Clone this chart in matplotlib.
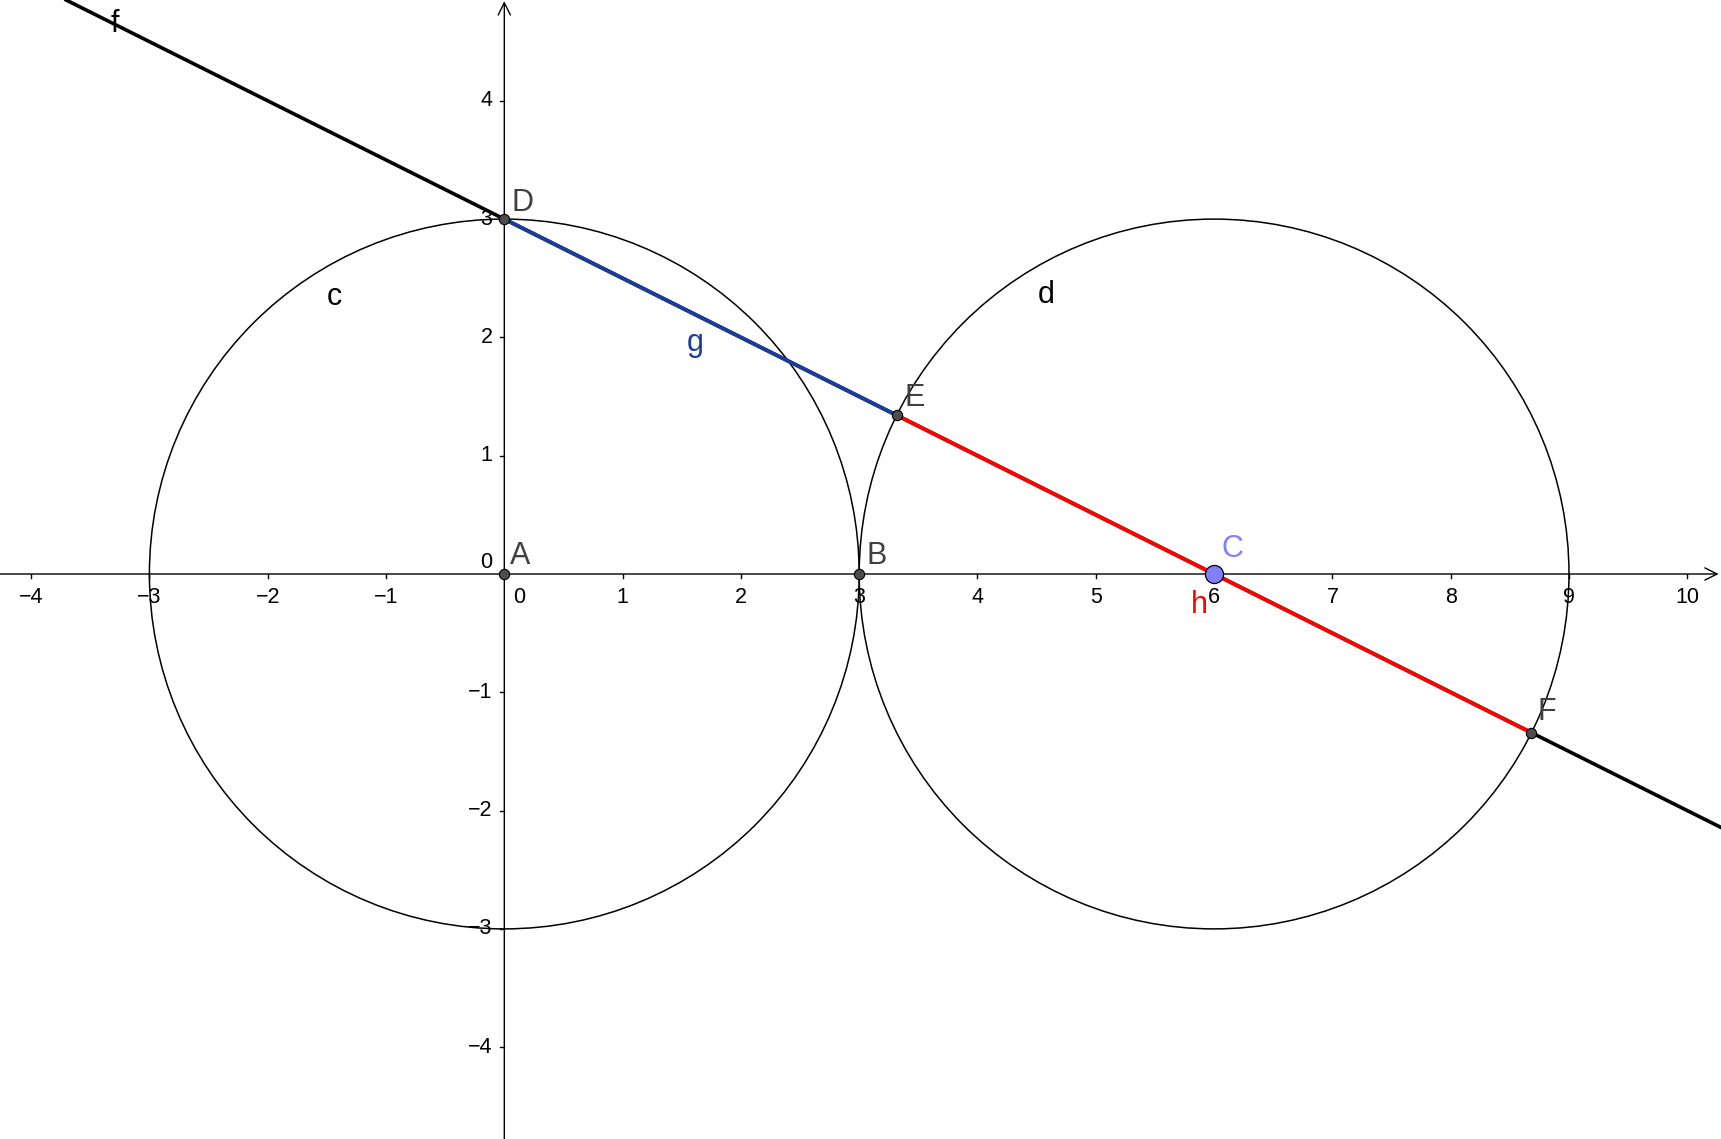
import numpy as np
import matplotlib.pyplot as plt
from matplotlib.patches import Circle

plt.rcParams['font.family'] = ['Liberation Sans', 'DejaVu Sans']

# view window (data units)
x_min, x_max = -4.263, 10.285
y_min, y_max = -4.776, 4.852

x_ticks = [-4, -3, -2, -1, 1, 2, 3, 4, 5, 6, 7, 8, 9, 10]
y_ticks = [-4, -3, -2, -1, 1, 2, 3, 4]

# circles c and d
circle_centers = [(0, 0), (6, 0)]
circle_radius = [3, 3]

# points
pt_names = ['A', 'B', 'D', 'E', 'F']
pt_x = [0, 3, 0, 3.317, 8.683]
pt_y = [0, 0, 3, 1.342, -1.342]
C_pt = (6, 0)

# labels: (text, x, y, colour)
labels = [
    ('A', 0.05, 0.15, '#404040'),
    ('B', 3.06, 0.15, '#404040'),
    ('C', 6.06, 0.21, '#7f7fff'),
    ('D', 0.06, 3.14, '#404040'),
    ('E', 3.38, 1.49, '#404040'),
    ('F', 8.73, -1.17, '#404040'),
    ('c', -1.50, 2.34, 'black'),
    ('d', 4.51, 2.36, 'black'),
    ('f', -3.33, 4.65, 'black'),
    ('g', 1.54, 1.95, '#1a3d99'),
    ('h', 5.80, -0.26, '#ff0000'),
]

fig = plt.figure(figsize=(17.21, 11.39), dpi=100)
ax = fig.add_axes([0, 0, 1, 1])
ax.set_xlim(x_min, x_max)
ax.set_ylim(y_min, y_max)
ax.set_aspect('equal')
ax.axis('off')

# axes with arrows
ax.annotate('', xy=(x_max - 0.02, 0), xytext=(x_min, 0),
            arrowprops=dict(arrowstyle='->', lw=1.0, color='black',
                            mutation_scale=22, shrinkA=0, shrinkB=0))
ax.annotate('', xy=(0, y_max - 0.01), xytext=(0, y_min),
            arrowprops=dict(arrowstyle='->', lw=1.0, color='black',
                            mutation_scale=22, shrinkA=0, shrinkB=0))

tick = 0.035
for t in x_ticks:
    ax.plot([t, t], [0, -tick], color='black', lw=1.0)
    ax.text(t, -0.2, str(t).replace('-', '\u2212'), ha='center', va='center', fontsize=15.5)
ax.text(0.13, -0.2, '0', ha='center', va='center', fontsize=15.5)
for t in y_ticks:
    ax.plot([0, -tick], [t, t], color='black', lw=1.0)
    ax.text(-0.1, t, str(t).replace('-', '\u2212'), ha='right', va='center', fontsize=15.5)
ax.text(-0.1, 0.1, '0', ha='right', va='center', fontsize=15.5)

# circles
for (cx, cy), r in zip(circle_centers, circle_radius):
    ax.add_patch(Circle((cx, cy), r, fill=False, ec='black', lw=1.1, zorder=2))

# line f through D and C
ax.axline((pt_x[2], pt_y[2]), C_pt, color='black', lw=2.6, zorder=3)
# segment g: D -> E, segment h: E -> F
ax.plot([pt_x[2], pt_x[3]], [pt_y[2], pt_y[3]], color='#1a3d99', lw=2.8, zorder=4,
        solid_capstyle='butt')
ax.plot([pt_x[3], pt_x[4]], [pt_y[3], pt_y[4]], color='#ff0000', lw=2.8, zorder=4,
        solid_capstyle='butt')

# points
ax.scatter(pt_x, pt_y, s=55, color='#4d4d4d', edgecolors='black', linewidths=0.8, zorder=6)
ax.scatter([C_pt[0]], [C_pt[1]], s=170, color='#7f7fff', edgecolors='black',
           linewidths=0.9, zorder=7)

for txt, lx, ly, col in labels:
    ax.text(lx, ly, txt, color=col, fontsize=22, ha='left', va='center', zorder=8)

fig.savefig('out.png', dpi=100)
